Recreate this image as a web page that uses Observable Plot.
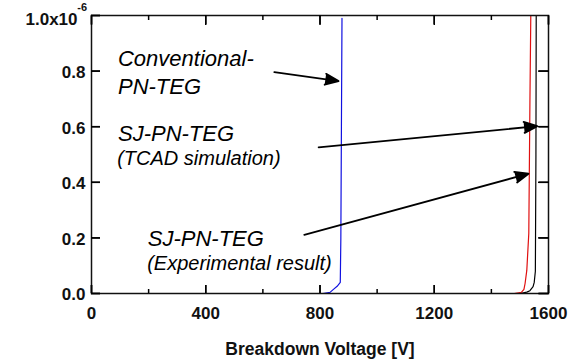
<!DOCTYPE html>
<html><head><meta charset="utf-8">
<script src="https://cdn.jsdelivr.net/npm/d3@7"></script>
<script src="https://cdn.jsdelivr.net/npm/@observablehq/plot@0.6"></script>
<style>body{margin:0;background:#fff}</style>
</head><body><div id="chart"></div>
<script>
// Data (current in units of 1e-6 A)
const convV = [0, 810, 835, 846, 860, 871, 873, 875, 877];
const convI = [0, 0, 0.004, 0.014, 0.026, 0.04, 0.2, 0.6, 0.99];
const tcadV = [0, 1480, 1505, 1514, 1518, 1524, 1531, 1535, 1538];
const tcadI = [0, 0, 0.004, 0.015, 0.036, 0.083, 0.216, 0.694, 1.0];
const expV  = [0, 1500, 1524, 1535, 1546, 1550, 1554, 1556, 1557];
const expI  = [0, 0, 0.005, 0.01, 0.025, 0.04, 0.08, 0.5, 1.0];

const xTicks = [0, 400, 800, 1200, 1600];
const xMinorTicks = [200, 600, 1000, 1400];
const yTicks = [0, 0.2, 0.4, 0.6, 0.8];
const yTopTick = [1.0];
const yTopLabel = ["1.0x10"];
const yExponent = ["-6"];
const xLabel = ["Breakdown Voltage [V]"];

const annotText = ["Conventional-", "PN-TEG", "SJ-PN-TEG", "(TCAD simulation)", "SJ-PN-TEG", "(Experimental result)"];
const annotV = [92.7, 92.7, 92.7, 90, 197, 195];
const annotI = [0.845, 0.743, 0.573, 0.485, 0.197, 0.108];
const annotSize = [22, 22, 22, 20, 22, 20];

const arrowV1 = [640, 795, 745];
const arrowI1 = [0.796, 0.526, 0.211];
const arrowV2 = [865, 1561, 1530];
const arrowI2 = [0.764, 0.602, 0.431];

const toSeries = (V, I) => V.map((v, i) => ({v, i: I[i]}));
const conv = toSeries(convV, convI);
const tcad = toSeries(tcadV, tcadI);
const expS = toSeries(expV, expI);
const annots = annotText.map((t, k) => ({t, v: annotV[k], i: annotI[k], s: annotSize[k]}));
const arrows = arrowV1.map((v, k) => ({x1: v, y1: arrowI1[k], x2: arrowV2[k], y2: arrowI2[k]}));

const font = "Arial, 'Liberation Sans', sans-serif";
const ink = "#111";
const W = 574, H = 363, ML = 91, MR = 26, MT = 15, MB = 70;
const FW = W - ML - MR, FH = H - MT - MB;

const plot = Plot.plot({
  width: W, height: H,
  marginLeft: ML, marginRight: MR, marginTop: MT, marginBottom: MB,
  style: {fontFamily: font, background: "#fff"},
  x: {domain: [0, 1600]},
  y: {domain: [0, 1]},
  marks: [
    Plot.line(expS, {x: "v", y: "i", stroke: "#000", strokeWidth: 1.2}),
    Plot.line(tcad, {x: "v", y: "i", stroke: "#e01010", strokeWidth: 1.2}),
    Plot.line(conv, {x: "v", y: "i", stroke: "#1010e0", strokeWidth: 1.2}),
    Plot.frame({stroke: ink, strokeWidth: 1.5}),
    // inward ticks (tick marks spanning a short inset of the frame)
    Plot.tickX(xTicks, {x: d => d, insetTop: FH - 8, stroke: "#000", strokeWidth: 1.5}),
    Plot.tickX(xMinorTicks, {x: d => d, insetTop: FH - 4, stroke: "#000", strokeWidth: 1.5}),
    Plot.tickX(xTicks, {x: d => d, insetBottom: FH - 9, stroke: "#000", strokeWidth: 1.5}),
    Plot.tickX(xMinorTicks, {x: d => d, insetBottom: FH - 5, stroke: "#000", strokeWidth: 1.5}),
    Plot.tickY(yTicks.concat(yTopTick), {y: d => d, insetRight: FW - 9, stroke: "#000", strokeWidth: 1.5}),
    Plot.tickY(yTicks, {y: d => d, insetLeft: FW - 10, stroke: "#000", strokeWidth: 1.5}),
    // same inward ticks through the axis marks (negative tick size)
    Plot.axisX({anchor: "bottom", ticks: xTicks, tickSize: -8, stroke: "#000", strokeWidth: 1.5, fill: "none", label: null}),
    Plot.axisX({anchor: "top", ticks: xTicks, tickSize: -9, stroke: "#000", strokeWidth: 1.5, fill: "none", label: null}),
    Plot.axisY({anchor: "left", ticks: yTicks.concat(yTopTick), tickSize: -9, stroke: "#000", strokeWidth: 1.5, fill: "none", label: null}),
    Plot.axisY({anchor: "right", ticks: yTicks, tickSize: -10, stroke: "#000", strokeWidth: 1.5, fill: "none", label: null}),
    // labels
    Plot.axisX({ticks: xTicks, tickSize: 0, tickPadding: 13, tickFormat: d => String(d), fontSize: 17, fontWeight: "bold", fill: ink, label: null}),
    Plot.axisY({ticks: yTicks, tickSize: 0, tickPadding: 6, tickFormat: d => d.toFixed(1), fontSize: 17, fontWeight: "bold", fill: ink, dy: 1.5, label: null}),
    Plot.text(yTopLabel, {x: () => 0, y: () => yTopTick[0], text: d => d, textAnchor: "end", dx: -14, dy: 4.5, fontSize: 17, fontWeight: "bold", fill: ink}),
    Plot.text(yExponent, {x: () => 0, y: () => yTopTick[0], text: d => d, textAnchor: "end", dx: -4.5, dy: -8.5, fontSize: 11, fontWeight: "bold", fill: ink}),
    Plot.text(xLabel, {frameAnchor: "bottom", lineAnchor: "middle", text: d => d, dy: 55.4, fontSize: 17.5, fontWeight: "bold", fill: ink}),
    // annotations
    Plot.text(annots, {x: "v", y: "i", text: "t", fontSize: d => d.s, textAnchor: "start", fontStyle: "italic", fill: "#000"}),
    Plot.arrow(arrows, {x1: "x1", y1: "y1", x2: "x2", y2: "y2", stroke: "#000", fill: "#000", strokeWidth: 1.8, headLength: 12, headAngle: 45, strokeLinejoin: "miter"})
  ]
});
document.getElementById("chart").appendChild(plot);
</script>
</body></html>
